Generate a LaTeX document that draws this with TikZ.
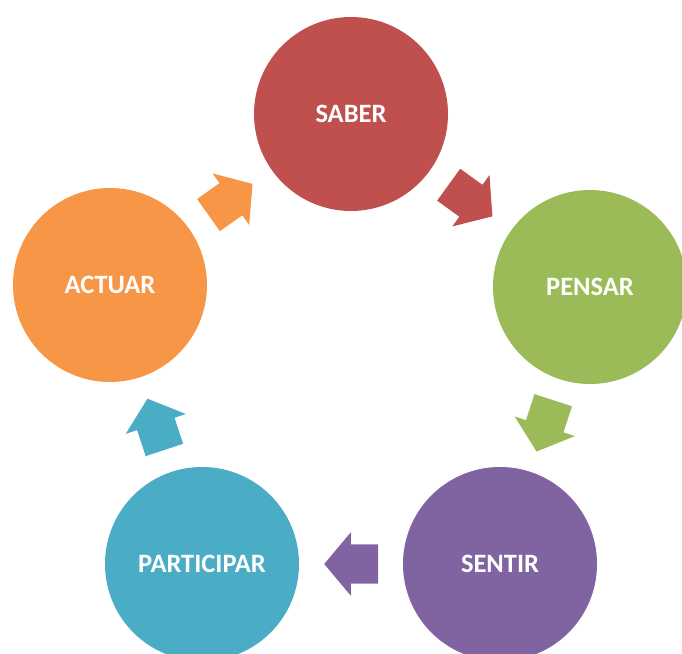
\documentclass[tikz,border=0pt]{standalone}
\usepackage{fontspec}
\setmainfont{Carlito}
\usepackage{xcolor}
\usepackage{tikz}
\usetikzlibrary{shapes.arrows}

\definecolor{saberred}{HTML}{C0504D}
\definecolor{pensargreen}{HTML}{9BBB59}
\definecolor{sentirpurple}{HTML}{8064A2}
\definecolor{participarblue}{HTML}{4BACC6}
\definecolor{actuarorange}{HTML}{F79646}

\begin{document}
\begin{tikzpicture}[x=1pt,y=1pt,
    stage/.style={circle,minimum size=194pt,inner sep=0pt,text=white,
      font=\fontsize{26.5}{30}\selectfont\bfseries},
    blockarrow/.style={single arrow,sloped,allow upside down,draw=none,
      anchor=tail,pos=0.408,
      minimum height=54pt,inner xsep=0pt,inner ysep=19.5pt,
      single arrow head extend=12pt,single arrow tip angle=100}]
      \useasboundingbox (0,0) rectangle (682,653);
      \node[stage,fill=saberred] (saber) at (351,539) {SABER};
      \node[stage,fill=pensargreen] (pensar) at (590,366) {PENSAR};
      \node[stage,fill=sentirpurple] (sentir) at (500,89) {SENTIR};
      \node[stage,fill=participarblue] (participar) at (202,89) {PARTICIPAR};
      \node[stage,fill=actuarorange] (actuar) at (110,368) {ACTUAR};
      \path (saber.center) -- node[blockarrow,fill=saberred] (a1) {} (pensar.center);
      \path (pensar.center) -- node[blockarrow,fill=pensargreen] (a2) {} (sentir.center);
      \path (sentir.center) -- node[blockarrow,fill=sentirpurple] (a3) {} (participar.center);
      \path (participar.center) -- node[blockarrow,fill=participarblue] (a4) {} (actuar.center);
      \path (actuar.center) -- node[blockarrow,fill=actuarorange] (a5) {} (saber.center);
    \end{tikzpicture}
\end{document}
